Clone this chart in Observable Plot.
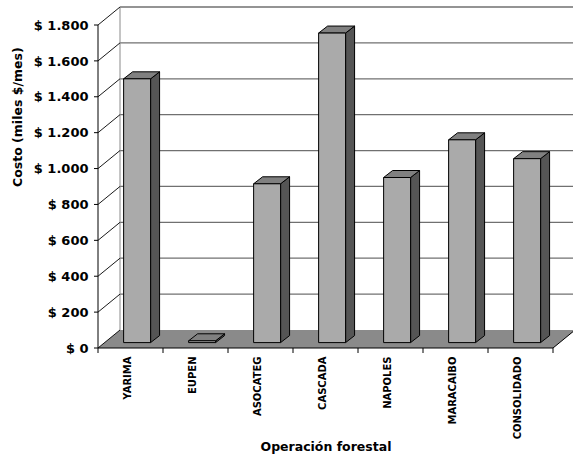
<!DOCTYPE html>
<html>
<head>
<meta charset="utf-8">
<script src="https://cdn.jsdelivr.net/npm/d3@7"></script>
<script src="https://cdn.jsdelivr.net/npm/@observablehq/plot@0.6"></script>
<style>
  html, body { margin: 0; padding: 0; background: #fff; overflow: hidden; }
  g[aria-label="y-tick-labels"] text { letter-spacing: 0.5px; }
  g[aria-label="category-labels"] text { letter-spacing: 0.3px; }
</style>
</head>
<body>
<div id="chart"></div>
<script>
// Monthly cost per forestry operation (thousands of $ per month)
const categories = ["YARIMA", "EUPEN", "ASOCATEG", "CASCADA", "NAPOLES", "MARACAIBO", "CONSOLIDADO"];
const costs = [1470, 10, 885, 1725, 920, 1130, 1025];

const yTicks = [0, 200, 400, 600, 800, 1000, 1200, 1400, 1600, 1800];
const yTickLabels = ["$ 0", "$ 200", "$ 400", "$ 600", "$ 800", "$ 1.000", "$ 1.200", "$ 1.400", "$ 1.600", "$ 1.800"];

const yLabel = "Costo (miles $/mes)";
const xLabel = "Operación forestal";

const rows = categories.map((category, i) => ({category, cost: costs[i]}));

// Pseudo-3D look: depth of the floor/back wall and of each box, in pixels
const depth = {dx: 22, dy: -18};
const barDepth = {dx: 9, dy: -7};
const barFront = 0.3;      // where the box front sits within the floor depth
const barWidthFrac = 0.415; // box width as a share of the band

const pts = (arr) => arr.map(p => p.join(",")).join(" ");

// Back wall, floor, gridlines and the 3D boxes, all positioned with Plot's scales
function chart3d(index, scales, values, dims) {
  const {x, y} = scales;
  const bw = x.bandwidth();
  const [x0, x1] = x.range();
  const y0 = y(0);
  const yMax = y(yTicks[yTicks.length - 1]);
  const right = Math.min(x1 + depth.dx, dims.width);
  const g = d3.create("svg:g");

  // back wall
  g.append("polygon")
    .attr("points", pts([[x0 + depth.dx, yMax + depth.dy], [right, yMax + depth.dy], [right, y0 + depth.dy], [x0 + depth.dx, y0 + depth.dy]]))
    .attr("fill", "#fff");
  for (const t of yTicks.slice(1)) {
    g.append("line")
      .attr("x1", x0 + depth.dx).attr("x2", right)
      .attr("y1", y(t) + depth.dy).attr("y2", y(t) + depth.dy)
      .attr("stroke", "#707070").attr("stroke-width", 1.3);
  }
  g.append("line")
    .attr("x1", x0 + depth.dx).attr("x2", x0 + depth.dx)
    .attr("y1", yMax + depth.dy).attr("y2", y0 + depth.dy)
    .attr("stroke", "#8a8a8a");

  // floor
  g.append("polygon")
    .attr("points", pts([[x0, y0], [x0 + depth.dx, y0 + depth.dy], [x1 + depth.dx, y0 + depth.dy], [x1, y0]]))
    .attr("fill", "#8a8a8a");
  g.append("line")
    .attr("x1", x1).attr("y1", y0).attr("x2", x1 + depth.dx).attr("y2", y0 + depth.dy)
    .attr("stroke", "#000");

  // diagonals from the front axis to the back wall
  for (const t of yTicks) {
    g.append("line")
      .attr("x1", x0).attr("y1", y(t))
      .attr("x2", x0 + depth.dx).attr("y2", y(t) + depth.dy)
      .attr("stroke", "#000").attr("stroke-width", 0.9);
  }

  // boxes
  const fx = depth.dx * barFront, fy = depth.dy * barFront;
  const w = bw * barWidthFrac;
  for (const d of rows) {
    const bx0 = x(d.category) + (bw - w) / 2 + fx;
    const bx1 = bx0 + w;
    const top = y(d.cost) + fy;
    const bot = y0 + fy;
    const box = g.append("g").attr("stroke", "#000").attr("stroke-width", 1).attr("stroke-linejoin", "round");
    box.append("polygon")
      .attr("points", pts([[bx1, top], [bx1 + barDepth.dx, top + barDepth.dy], [bx1 + barDepth.dx, bot + barDepth.dy], [bx1, bot]]))
      .attr("fill", "#555");
    box.append("polygon")
      .attr("points", pts([[bx0, top], [bx1, top], [bx1 + barDepth.dx, top + barDepth.dy], [bx0 + barDepth.dx, top + barDepth.dy]]))
      .attr("fill", "#808080");
    box.append("rect")
      .attr("x", bx0).attr("y", top).attr("width", w).attr("height", Math.max(0, bot - top))
      .attr("fill", "#aaa");
  }

  // front axes and ticks
  g.append("line").attr("x1", x0).attr("x2", x0).attr("y1", yMax).attr("y2", y0).attr("stroke", "#000");
  g.append("line").attr("x1", x0).attr("x2", x1).attr("y1", y0).attr("y2", y0).attr("stroke", "#000");
  for (const t of yTicks) {
    g.append("line").attr("x1", x0 - 4).attr("x2", x0).attr("y1", y(t)).attr("y2", y(t)).attr("stroke", "#000");
  }
  for (let i = 0; i <= categories.length; i++) {
    const xb = i < categories.length ? x(categories[i]) : x1;
    g.append("line").attr("x1", xb).attr("x2", xb).attr("y1", y0).attr("y2", y0 + 5).attr("stroke", "#000");
  }
  return g.node();
}

const plot = Plot.plot({
  width: 573,
  height: 462,
  marginLeft: 98,
  marginRight: 20,
  marginTop: 25,
  marginBottom: 114,
  style: {fontFamily: "'DejaVu Sans', Verdana, sans-serif", background: "#fff", color: "#000"},
  x: {type: "band", domain: categories, padding: 0, axis: null},
  y: {domain: [0, 1800], axis: null},
  marks: [
    chart3d,
    Plot.text(yTicks, {
      y: d => d, text: (d, i) => yTickLabels[i], frameAnchor: "left",
      dx: -10, textAnchor: "end", fontSize: 13, fontWeight: "bold", fill: "#000",
      ariaLabel: "y-tick-labels"
    }),
    Plot.text(categories, {
      x: d => d, text: d => d, frameAnchor: "bottom", rotate: -90,
      textAnchor: "end", dy: 8, fontSize: 10, fontWeight: "bold", fill: "#000",
      ariaLabel: "category-labels"
    }),
    Plot.text([yLabel], {
      frameAnchor: "left", rotate: -90, dx: -81, fontSize: 12.5, fontWeight: "bold", fill: "#000"
    }),
    Plot.text([xLabel], {
      frameAnchor: "bottom", dy: 102, fontSize: 12.5, fontWeight: "bold", fill: "#000"
    })
  ]
});

document.getElementById("chart").append(plot);
</script>
</body>
</html>
